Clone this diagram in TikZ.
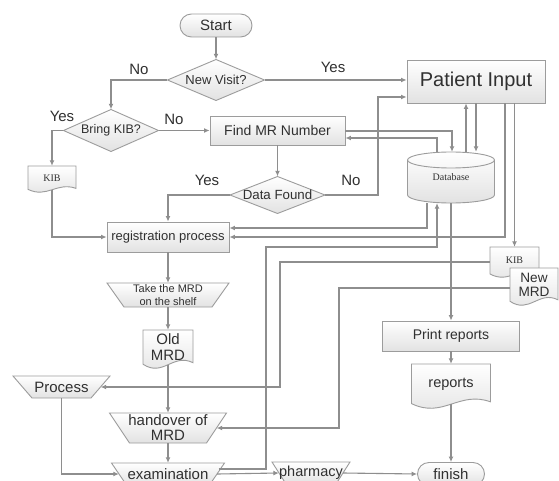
\documentclass[tikz,border=0pt]{standalone}
\usepackage{fontspec}
\setmainfont{Liberation Sans}
\newfontfamily\serifdb{Liberation Serif}
\usetikzlibrary{arrows.meta,calc}
\definecolor{edgecol}{HTML}{9C9C9C}
\definecolor{wirecol}{HTML}{8E8E8E}
\definecolor{inkcol}{HTML}{303030}
\definecolor{shadecol}{HTML}{E2E2E2}
\tikzset{
 shapefill/.style={draw=edgecol, line width=0.9pt, top color=white, bottom color=shadecol},
 txt/.style={inner sep=0pt, text=inkcol, align=center},
 boxnode/.style={txt, shapefill, rectangle},
 wire/.style={draw=wirecol, line width=1.1pt, -{Latex[length=5.5pt,width=5pt]}},
 lbl/.style={inner sep=0pt, text=inkcol, font=\fontsize{15}{15}\selectfont},
}
% name cx cy w h font text
\newcommand\docnode[7]{%
 \path[shapefill] ({#2-#4/2},{#3-#5/2}) -- ({#2+#4/2},{#3-#5/2}) -- ({#2+#4/2},{#3+0.36*#5}) .. controls ({#2+0.1*#4},{#3+0.1*#5}) and ({#2-0.1*#4},{#3+0.75*#5}) .. ({#2-#4/2},{#3+0.4*#5}) -- cycle;
 \node[txt, font=#6, minimum width=#4 pt, minimum height={0.91*#5}] (#1) at (#2,{#3-0.045*#5}) {#7};
}
% name cx cy w h font text
\newcommand\diamondnode[7]{%
 \path[shapefill] ({#2-#4/2},#3) -- (#2,{#3-#5/2}) -- ({#2+#4/2},#3) -- (#2,{#3+#5/2}) -- cycle;
 \node[txt, font=#6, minimum width=#4 pt, minimum height=#5 pt] (#1) at (#2,#3) {#7};
}
% name cx cy topw h inset font text
\newcommand\trapnode[8]{%
 \path[shapefill] ({#2-#4/2},{#3-#5/2}) -- ({#2+#4/2},{#3-#5/2}) -- ({#2+#4/2-#6},{#3+#5/2}) -- ({#2-#4/2+#6},{#3+#5/2}) -- cycle;
 \node[txt, font=#7, minimum width={#4-#6}, minimum height=#5 pt] (#1) at (#2,#3) {#8};
}
\begin{document}
\begin{tikzpicture}[x=1pt,y=-1pt]
\clip (0,0) rectangle (559,481);
\fill[white] (0,0) rectangle (559,481);

% ---------- shapes ----------
\node[boxnode, rounded corners=11.5pt, minimum width=72pt, minimum height=23pt, font=\fontsize{15}{15}\selectfont] (Start) at (216,25.5) {Start};
\diamondnode{NewVisit}{216}{80}{97}{41}{\fontsize{13}{13}\selectfont}{New Visit?}
\node[boxnode, minimum width=138pt, minimum height=43pt, font=\fontsize{20}{20}\selectfont] (PatientInput) at (476,81.5) {Patient Input};
\diamondnode{BringKIB}{111}{130.5}{95}{42}{\fontsize{12.5}{12.5}\selectfont}{Bring KIB?}
\node[boxnode, minimum width=135pt, minimum height=29pt, font=\fontsize{14}{14}\selectfont] (FindMR) at (277.5,130.5) {Find MR Number};
\diamondnode{DataFound}{277.5}{195}{95}{37}{\fontsize{13.3}{13.3}\selectfont}{Data Found}

% Database cylinder
\path[shapefill] (407.5,160) -- (407.5,195) arc[start angle=180,end angle=360,x radius=43.5pt,y radius=8pt] -- (494.5,160) arc[start angle=0,end angle=180,x radius=43.5pt,y radius=8pt] -- cycle;
\draw[draw=edgecol, line width=0.9pt] (407.5,160) arc[start angle=180,end angle=360,x radius=43.5pt,y radius=8pt];
\node[txt, font=\serifdb\fontsize{10}{10}\selectfont, minimum width=87pt, minimum height=51pt] (Database) at (451,177.5) {Database};

\docnode{KIB1}{52}{179}{48}{26}{\serifdb\fontsize{10}{10}\selectfont}{KIB}
\node[boxnode, minimum width=122pt, minimum height=30pt, font=\fontsize{13}{13}\selectfont] (RegProc) at (168,237) {registration process};
\trapnode{TakeMRD}{168}{295}{122}{24}{17}{\fontsize{11}{12.5}\selectfont}{Take the MRD\\on the shelf}
\docnode{OldMRD}{168}{349}{50}{38}{\fontsize{15}{15.5}\selectfont}{Old\\MRD}
\trapnode{Process}{61.5}{387}{97}{22}{19}{\fontsize{15}{15}\selectfont}{Process}
\trapnode{Handover}{168}{428}{117}{30}{20}{\fontsize{15}{15}\selectfont}{handover of\\MRD}
\trapnode{Exam}{168}{474}{113}{22}{15}{\fontsize{15}{15}\selectfont}{examination}
\trapnode{Pharmacy}{311}{473}{78}{22}{14}{\fontsize{14.5}{14.5}\selectfont}{pharmacy}
\node[boxnode, rounded corners=11.5pt, minimum width=67pt, minimum height=23pt, font=\fontsize{15}{15}\selectfont] (Finish) at (451,474) {finish};
\node[boxnode, minimum width=137pt, minimum height=30pt, font=\fontsize{14}{14}\selectfont] (PrintReports) at (451,336) {Print reports};
\docnode{Reports}{451}{386}{79}{44}{\fontsize{14.5}{14.5}\selectfont}{reports}
\docnode{KIB2}{514.5}{262}{49}{30}{\serifdb\fontsize{10}{10}\selectfont}{KIB}
\docnode{NewMRD}{534}{286.5}{48}{37}{\fontsize{13.6}{14}\selectfont\raggedright}{New\\MRD}

% ---------- labels ----------
\node[lbl] (lNo1) at (139,69) {No};
\node[lbl] (lYes1) at (333,67) {Yes};
\node[lbl] (lYes2) at (62,116) {Yes};
\node[lbl] (lNo2) at (174,119) {No};
\node[lbl] (lYes3) at (207,180) {Yes};
\node[lbl] (lNo3) at (351,180) {No};

% ---------- helper bends ----------
\coordinate (bNo) at (378,97);
\coordinate (b131) at (452,131);
\coordinate (b138) at (437,138);
\coordinate (x466) at (466,0);
\coordinate (x476) at (476,0);
\coordinate (b228) at (427,228);
\coordinate (b237) at (505,237);
\coordinate (b247a) at (266,247);
\coordinate (b247b) at (437,247);
\coordinate (b262) at (280,262);
\coordinate (b288) at (339,288);

% ---------- connectors ----------
\draw[wire] (Start.south) -- (NewVisit.north);
\draw[wire] (NewVisit.east) -- (PatientInput.west |- NewVisit.east);
\draw[wire] (NewVisit.west) -| (BringKIB.north);
\draw[wire] (BringKIB.east) -- (FindMR.west |- BringKIB.east);
\draw[wire] (BringKIB.west) -| (KIB1.north);
\draw[wire] (KIB1.south) |- (RegProc.west);
\draw[wire] (FindMR.south) -- (DataFound.north);
\draw[wire] (DataFound.west) -| (RegProc.north);
\draw[wire] (DataFound.east) -| (bNo) -- (PatientInput.west |- bNo);
\draw[wire] (FindMR.east |- b131) -| (Database.north -| b131);
\draw[wire] (Database.north -| b138) |- (FindMR.east |- b138);
\draw[wire] (Database.north -| x466) -- (PatientInput.south -| x466);
\draw[wire] (PatientInput.south -| x476) -- (Database.north -| x476);
\draw[wire] (Database.south -| b228) |- (RegProc.east |- b228);
\draw[wire] (PatientInput.south -| b237) |- (RegProc.east |- b237);
\draw[wire] (PatientInput.south -| KIB2.north) -- (KIB2.north);
\draw[wire] ($(Exam.east)+(1.4,-5)$) -| (b247a) -- (b247b) -- (Database.south -| b247b);
\draw[wire] (KIB2.west |- b262) -- (b262) |- (Process.east);
\draw[wire] (NewMRD.west |- b288) -- (b288) |- (Handover.east);
\draw[wire] (RegProc.south) -- (TakeMRD.north);
\draw[wire] (TakeMRD.south) -- (OldMRD.north);
\draw[wire] (OldMRD.south) -- (Handover.north);
\draw[wire] (Handover.south) -- (Exam.north);
\draw[wire] (Process.south) |- (Exam.west);
\draw[wire] (Exam.east) -- (Pharmacy.west);
\draw[wire] (Pharmacy.east) -- (Finish.west);
\draw[wire] (Database.south) -- (PrintReports.north);
\draw[wire] (PrintReports.south) -- (Reports.north);
\draw[wire] (Reports.south) -- (Finish.north);
\end{tikzpicture}
\end{document}
